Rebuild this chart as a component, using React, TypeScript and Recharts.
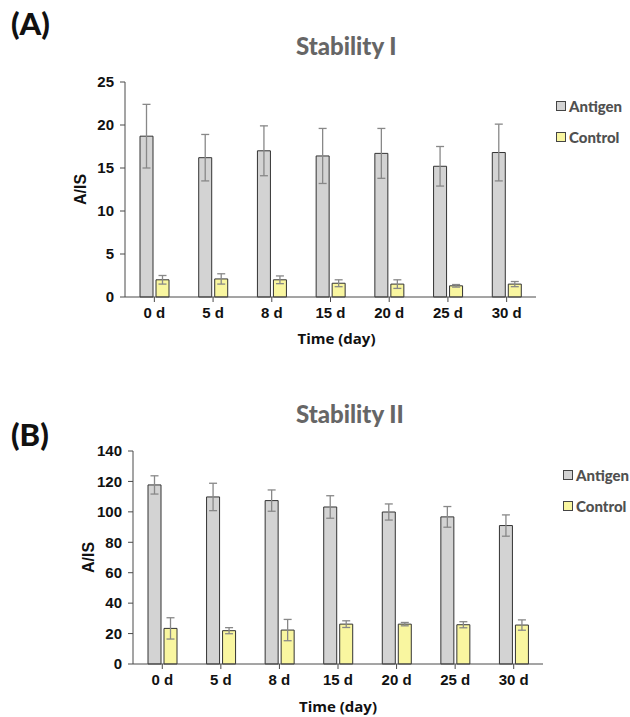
import { BarChart, Bar, XAxis, YAxis, ErrorBar, Legend, Label } from "recharts";

const days = ["0 d", "5 d", "8 d", "15 d", "20 d", "25 d", "30 d"];

// Stability I
const antigenA = [18.7, 16.2, 17.0, 16.4, 16.7, 15.2, 16.8];
const antigenErrA = [3.7, 2.7, 2.9, 3.2, 2.9, 2.3, 3.3];
const controlA = [2.0, 2.1, 2.0, 1.6, 1.5, 1.3, 1.5];
const controlErrA = [0.5, 0.6, 0.45, 0.4, 0.5, 0.15, 0.3];
const ticksA = [0, 5, 10, 15, 20, 25];

// Stability II
const antigenB = [117.7, 109.8, 107.4, 103.2, 99.9, 96.7, 91.0];
const antigenErrB = [6, 9, 7, 7.4, 5.3, 6.8, 7];
const controlB = [23.4, 21.9, 22.3, 26.2, 26.2, 25.8, 25.6];
const controlErrB = [7, 2, 7, 2.2, 1.1, 2, 3.4];
const ticksB = [0, 20, 40, 60, 80, 100, 120, 140];

const ANTIGEN_FILL = "#d3d3d3";
const CONTROL_FILL = "#f9f6a0";
const AXIS = "#4a4a4a";
const TICK_FONT = "'Liberation Sans', Arial, sans-serif";
const TEXT_FONT = "Lato, 'Open Sans', sans-serif";

type Row = {
  day: string;
  antigen: number;
  antigenErr: number;
  control: number;
  controlErr: number;
};

function buildRows(a: number[], ae: number[], c: number[], ce: number[]): Row[] {
  return days.map((day, i) => ({
    day,
    antigen: a[i],
    antigenErr: ae[i],
    control: c[i],
    controlErr: ce[i],
  }));
}

function LegendBox() {
  const items = [
    { name: "Antigen", fill: ANTIGEN_FILL },
    { name: "Control", fill: CONTROL_FILL },
  ];
  return (
    <div style={{ fontFamily: TEXT_FONT }}>
      {items.map((it, i) => (
        <div
          key={it.name}
          style={{ display: "flex", alignItems: "center", height: 20, marginTop: i === 0 ? 0 : 11 }}
        >
          <span
            style={{
              width: 8,
              height: 8,
              border: "1.5px solid #444",
              background: it.fill,
              display: "inline-block",
              marginRight: 3,
            }}
          />
          <span style={{ fontWeight: 900, fontSize: 15, color: "#505050" }}>{it.name}</span>
        </div>
      ))}
    </div>
  );
}

type PanelProps = {
  rows: Row[];
  ticks: number[];
  margin: { top: number; right: number; bottom: number; left: number };
  legendPos: { left: number; top: number };
  timeDx: number;
  timeDy: number;
};

function Panel({ rows, ticks, margin, legendPos, timeDx, timeDy }: PanelProps) {
  return (
    <BarChart width={630} height={350} data={rows} margin={margin} barGap={3}>
      <XAxis
        dataKey="day"
        height={45}
        stroke={AXIS}
        tickSize={5}
        tickMargin={5}
        tick={{ fontSize: 15, fill: "#111", fontWeight: "bold", fontFamily: TICK_FONT }}
      >
        <Label
          content={(props: any) => {
            const vb = props.viewBox;
            return (
              <text
                x={vb.x + vb.width / 2 + timeDx}
                y={vb.y + timeDy}
                textAnchor="middle"
                dominantBaseline="central"
                style={{ fontSize: 15, fontWeight: 700, fill: "#111", fontFamily: "'Open Sans', sans-serif" }}
              >
                Time (day)
              </text>
            );
          }}
        />
      </XAxis>
      <YAxis
        width={60}
        domain={[ticks[0], ticks[ticks.length - 1]]}
        ticks={ticks}
        interval={0}
        stroke={AXIS}
        tickSize={5}
        tickMargin={6}
        tick={{ fontSize: 15, fill: "#111", fontWeight: "bold", fontFamily: TICK_FONT }}
      >
        <Label
          content={(props: any) => {
            const vb = props.viewBox;
            const x = vb.x + 15;
            const y = vb.y + vb.height / 2;
            return (
              <text
                x={x}
                y={y}
                transform={`rotate(-90, ${x}, ${y})`}
                textAnchor="middle"
                dominantBaseline="central"
                style={{ fontSize: 16, fontWeight: 700, fill: "#111", fontFamily: TICK_FONT }}
              >
                A/IS
              </text>
            );
          }}
        />
      </YAxis>
      <Legend
        layout="horizontal"
        verticalAlign="middle"
        align="center"
        wrapperStyle={{ left: legendPos.left, top: legendPos.top, width: "auto" }}
        content={() => <LegendBox />}
      />
      <Bar dataKey="antigen" name="Antigen" fill={ANTIGEN_FILL} stroke="#333" strokeWidth={1} barSize={13} isAnimationActive={false}>
        <ErrorBar dataKey="antigenErr" width={4} stroke="#888" strokeWidth={1.3} direction="y" />
      </Bar>
      <Bar dataKey="control" name="Control" fill={CONTROL_FILL} stroke="#333" strokeWidth={1} barSize={13} isAnimationActive={false}>
        <ErrorBar dataKey="controlErr" width={4} stroke="#888" strokeWidth={1.3} direction="y" />
      </Bar>
    </BarChart>
  );
}

const panelLabel: React.CSSProperties = {
  position: "absolute",
  left: 11,
  fontFamily: TEXT_FONT,
  fontWeight: 900,
  fontSize: 31,
  lineHeight: "32px",
  color: "#111",
};

const titleStyle: React.CSSProperties = {
  position: "absolute",
  left: 296,
  fontFamily: TEXT_FONT,
  fontWeight: 900,
  fontSize: 24,
  lineHeight: "26px",
  color: "#666",
};

export default function App() {
  const rowsA = buildRows(antigenA, antigenErrA, controlA, controlErrA);
  const rowsB = buildRows(antigenB, antigenErrB, controlB, controlErrB);
  return (
    <div style={{ position: "absolute", left: 0, top: 0, width: 630, height: 717, background: "#fff", overflow: "hidden" }}>
      <div style={{ ...panelLabel, top: 7 }}>(A)</div>
      <div style={{ ...titleStyle, top: 33 }}>Stability I</div>
      <div style={{ position: "absolute", left: 0, top: 0 }}>
        <Panel
          rows={rowsA}
          ticks={ticksA}
          margin={{ top: 82, right: 94, bottom: 8, left: 65 }}
          legendPos={{ left: 556, top: 96 }}
          timeDx={6}
          timeDy={41}
        />
      </div>

      <div style={{ ...panelLabel, top: 418 }}>(B)</div>
      <div style={{ ...titleStyle, top: 401 }}>Stability II</div>
      <div style={{ position: "absolute", left: 0, top: 367 }}>
        <Panel
          rows={rowsB}
          ticks={ticksB}
          margin={{ top: 84, right: 87, bottom: 8, left: 73 }}
          legendPos={{ left: 563, top: 98 }}
          timeDx={0}
          timeDy={42}
        />
      </div>
    </div>
  );
}
